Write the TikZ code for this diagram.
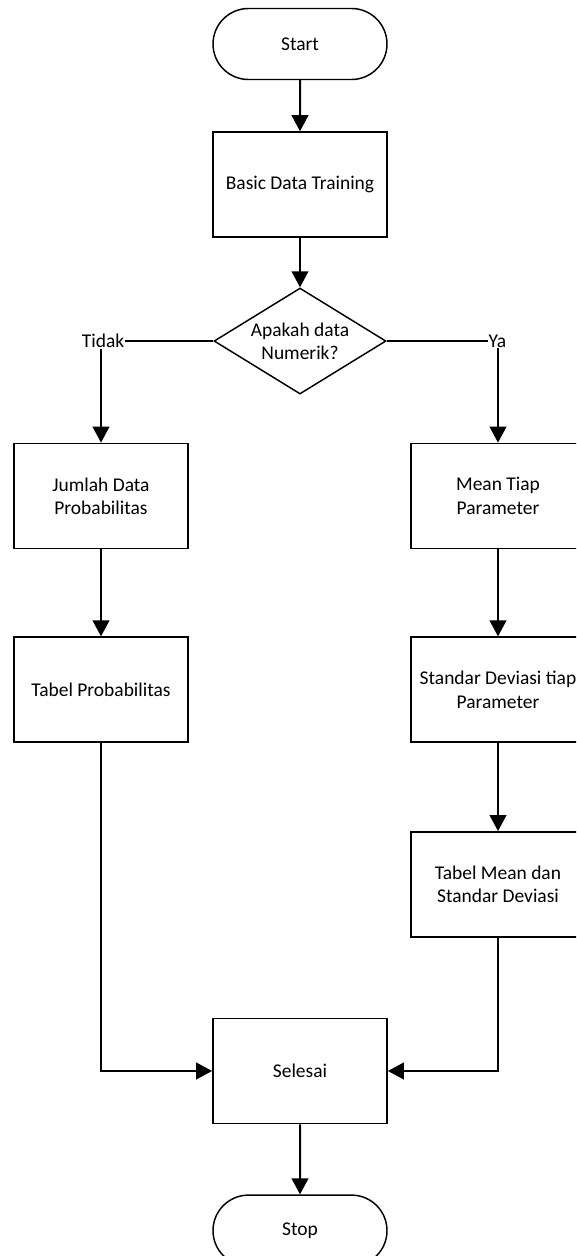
\documentclass[tikz,border=0pt]{standalone}
\usepackage{fontspec}
\setmainfont{Carlito}
\usepackage{tikz}
\usetikzlibrary{positioning,arrows.meta,shapes.geometric,shapes.misc}
\tikzset{
  >={Triangle[length=12pt,width=12.5pt]},
  termbox/.style={draw,rounded rectangle,minimum width=130.5pt,
    minimum height=53.25pt,inner sep=0pt,line width=1.1pt,font=\fontsize{14.6}{17.5}\selectfont},
  procbox/.style={draw,rectangle,minimum width=130.5pt,minimum height=78.75pt,
    inner sep=0pt,align=center,line width=1.3pt,font=\fontsize{14.6}{17.5}\selectfont},
  decbox/.style={draw,diamond,aspect=1.62,minimum width=129pt,minimum height=79.5pt,
    inner sep=0pt,align=center,line width=1.1pt,font=\fontsize{14.6}{17.5}\selectfont},
  flow/.style={->,line width=1.5pt},
  flowline/.style={line width=1.5pt},
  flowlbl/.style={inner sep=0.5pt,font=\fontsize{14.6}{17.5}\selectfont},
}
\begin{document}
\begin{tikzpicture}
  \useasboundingbox (0,0) rectangle (432pt,-942pt);
  \clip (0,0) rectangle (432pt,-942pt);
  % main column
  \node[termbox] (start) at (225pt,-33pt) {Start};
  \node[procbox,below=38.25pt of start] (basic) {Basic Data Training};
  \node[decbox,below=37pt of basic] (dec) {Apakah data\\Numerik?};
  % left branch
  \node[flowlbl,left=66pt of dec.west] (tidak) {Tidak};
  \node[procbox] (jml) at (75.75pt,-372pt) {Jumlah Data\\Probabilitas};
  \node[procbox,below=65.25pt of jml] (tabp) {Tabel Probabilitas};
  % right branch
  \node[flowlbl,right=75.75pt of dec.east] (ya) {Ya};
  \node[procbox] (mean) at (373.5pt,-372pt) {Mean Tiap\\Parameter};
  \node[procbox,below=65.25pt of mean] (std) {Standar Deviasi tiap\\Parameter};
  \node[procbox,below=66pt of std] (tabm) {Tabel Mean dan\\Standar Deviasi};
  % end
  \node[procbox] (sel) at (225pt,-803.25pt) {Selesai};
  \node[termbox,below=52.5pt of sel] (stop) {Stop};

  \draw[flow] (start) -- (basic);
  \draw[flow] (basic) -- (dec);
  \draw[flowline] (dec.west) -- (tidak.east);
  \draw[flow] (tidak.south -| jml.north) -- (jml.north);
  \draw[flowline] (dec.east) -- (ya.west);
  \draw[flow] (ya.south -| mean.north) -- (mean.north);
  \draw[flow] (jml) -- (tabp);
  \draw[flow] (mean) -- (std);
  \draw[flow] (std) -- (tabm);
  \draw[flow] (tabp.south) |- (sel.west);
  \draw[flow] (tabm.south) |- (sel.east);
  \draw[flow] (sel) -- (stop);
\end{tikzpicture}
\end{document}
